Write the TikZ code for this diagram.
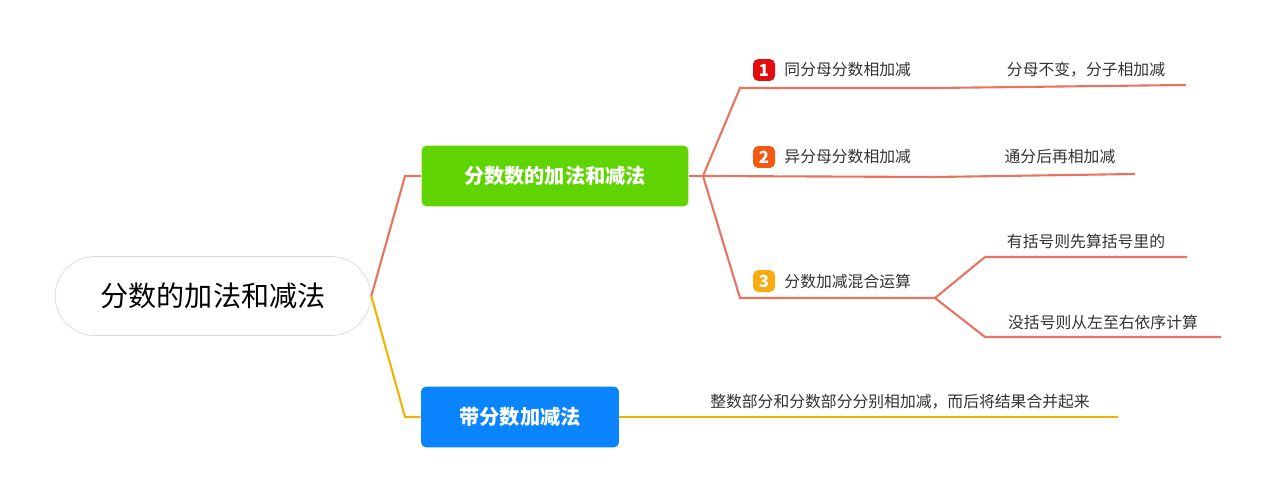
\documentclass[tikz,border=0pt]{standalone}
\usepackage{fontspec}
\setmainfont{Noto Sans CJK SC}
\usetikzlibrary{positioning}
\definecolor{lnred}{HTML}{E8735F}
\definecolor{lnyel}{HTML}{F0B400}
\definecolor{bxgreen}{HTML}{5FD400}
\definecolor{bxblue}{HTML}{0A84FF}
\definecolor{bdg1}{HTML}{E00E0E}
\definecolor{bdg2}{HTML}{F25A14}
\definecolor{bdg3}{HTML}{F8AC10}
\begin{document}
\begin{tikzpicture}[x=0.02cm, y=-0.02cm,
  topic/.style={rounded corners=3pt, minimum height=1.22cm, text=white,
    font=\fontsize{11.5}{14}\selectfont\bfseries},
  leaf/.style={font=\fontsize{9}{11}\selectfont, text=black!80, inner sep=1pt},
  badge/.style={rounded corners=3pt, minimum size=0.44cm, inner sep=0pt, text=white,
    font=\fontsize{9.5}{11}\selectfont\bfseries},
  red line/.style={lnred, line width=1.2pt},
  yel line/.style={lnyel, line width=1.2pt}
]
  \useasboundingbox (0,0) rectangle (1274,500);
  \node[draw=black!15, rounded corners=0.8cm, minimum width=6.32cm, minimum height=1.58cm,
    font=\fontsize{16}{19}\selectfont] (root) at (213,296) {分数的加法和减法};
  \node[topic, fill=bxgreen, minimum width=5.34cm] (frac) at (555,176) {分数数的加法和减法};
  \node[topic, fill=bxblue, minimum width=3.96cm] (mixed) at (520,417) {带分数加减法};

  % root to topics
  \draw[red line] (root.east) -- (405,176) -- (frac.west);
  \draw[yel line] (root.east) -- (405,417) -- (mixed.west);

  % first topic
  \coordinate (fork) at (703,176);
  \draw[red line] (frac.east) -- (fork);
  \node[badge, fill=bdg1] (b1) at (764,70) {1};
  \node[leaf, right=4pt of b1] (same) {同分母分数相加减};
  \node[badge, fill=bdg2] (b2) at (764,157) {2};
  \node[leaf, right=4pt of b2] (diff) {异分母分数相加减};
  \node[badge, fill=bdg3] (b3) at (764,281) {3};
  \node[leaf, right=4pt of b3] (mix) {分数加减混合运算};
  \coordinate (e1) at (935,88);
  \coordinate (e2) at (935,177);
  \coordinate (e3) at (935,298);
  \draw[red line] (fork) -- (740,88) -- (e1);
  \draw[red line] (fork) -- (e2);
  \draw[red line] (fork) -- (740,298) -- (e3);

  \node[leaf] (rule1) at (1086,70) {分母不变，分子相加减};
  \node[leaf] (rule2) at (1060,157) {通分后再相加减};
  \node[leaf] (rule3) at (1086,241) {有括号则先算括号里的};
  \node[leaf] (rule4) at (1103,322) {没括号则从左至右依序计算};
  \draw[red line] (e1) -- (1186,85);
  \draw[red line] (e2) -- (1135,174);
  \draw[red line] (e3) -- (985,257) -- (1187,257);
  \draw[red line] (e3) -- (985,337) -- (1221,337);

  % second topic
  \node[leaf] (whole) at (900,402) {整数部分和分数部分分别相加减，而后将结果合并起来};
  \draw[yel line] (mixed.east) -- (1118,417);
\end{tikzpicture}
\end{document}
